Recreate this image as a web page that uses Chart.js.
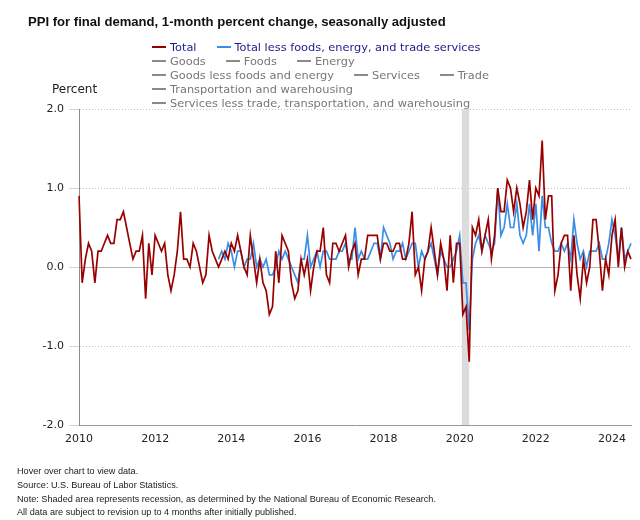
<!DOCTYPE html>
<html>
<head>
<meta charset="utf-8">
<title>PPI for final demand</title>
<script src="https://cdn.jsdelivr.net/npm/chart.js@4.4.1/dist/chart.umd.min.js"></script>
<style>
  body { margin: 0; background: #fff; }
  #wrap { position: relative; width: 640px; height: 520px; overflow: hidden; font-family: "DejaVu Sans", sans-serif; }
  #ppiChart { position: absolute; left: 0; top: 0; }
  .title { position: absolute; left: 28px; top: 14px; font: bold 13.1px "Liberation Sans", Arial, sans-serif; color: #111; white-space: nowrap; }
  .legend { position: absolute; left: 152px; top: 40px; font-size: 11.35px; line-height: 14px; }
  .legend .row { display: flex; white-space: nowrap; }
  .legend .item { display: flex; align-items: center; margin-right: 20px; color: #777; }
  .legend .item.on { color: #1c1c8c; }
  .legend .swatch { width: 14px; height: 0; border-top: 2px solid #8a8a8a; margin-right: 4px; }
  .ylabel { position: absolute; left: 52px; top: 82px; font-size: 12px; color: #222; }
  .notes { position: absolute; left: 17px; top: 465px; font: 9.15px/13.8px "Liberation Sans", Arial, sans-serif; color: #222; white-space: nowrap; }
</style>
</head>
<body>
<div id="wrap">
  <canvas id="ppiChart" width="640" height="520"></canvas>
  <div class="title">PPI for final demand, 1-month percent change, seasonally adjusted</div>
  <div class="legend" id="legend"></div>
  <div class="ylabel">Percent</div>
  <div class="notes">
    Hover over chart to view data.<br>
    Source: U.S. Bureau of Labor Statistics.<br>
    Note: Shaded area represents recession, as determined by the National Bureau of Economic Research.<br>
    All data are subject to revision up to 4 months after initially published.
  </div>
</div>
<script>
// months Jan 2010 .. Jul 2024
const months = [];
for (let y = 2010; y <= 2024; y++) {
  for (let m = 1; m <= 12; m++) {
    if (y === 2024 && m > 7) break;
    months.push(y + "-" + String(m).padStart(2, "0"));
  }
}

const yearTicks = ["2010", "2012", "2014", "2016", "2018", "2020", "2022", "2024"];
const yTicks = [-2, -1, 0, 1, 2];

const recessionStart = "2020-02";
const recessionEnd = "2020-04";

// Total
const total = [
  0.9, -0.2, 0.1, 0.3, 0.2, -0.2, 0.2, 0.2, 0.3, 0.4, 0.3, 0.3,
  0.6, 0.6, 0.7, 0.5, 0.3, 0.1, 0.2, 0.2, 0.4, -0.4, 0.3, -0.1,
  0.4, 0.3, 0.2, 0.3, -0.1, -0.3, -0.1, 0.2, 0.7, 0.1, 0.1, 0.0,
  0.3, 0.2, 0.0, -0.2, -0.1, 0.4, 0.2, 0.1, 0.0, 0.1, 0.2, 0.1,
  0.3, 0.2, 0.4, 0.2, 0.0, -0.1, 0.4, 0.1, -0.2, 0.1, -0.2, -0.3,
  -0.6, -0.5, 0.2, -0.2, 0.4, 0.3, 0.2, -0.2, -0.4, -0.3, 0.1, -0.1,
  0.1, -0.3, 0.0, 0.2, 0.2, 0.5, -0.1, -0.2, 0.3, 0.3, 0.2, 0.3,
  0.4, 0.0, 0.2, 0.3, -0.1, 0.1, 0.1, 0.4, 0.4, 0.4, 0.4, 0.1,
  0.3, 0.3, 0.2, 0.2, 0.3, 0.3, 0.1, 0.1, 0.3, 0.7, -0.1, 0.0,
  -0.3, 0.1, 0.2, 0.5, 0.2, -0.1, 0.3, 0.1, -0.3, 0.4, -0.2, 0.3,
  0.3, -0.6, -0.5, -1.2, 0.5, 0.4, 0.6, 0.2, 0.4, 0.6, 0.1, 0.4,
  1.0, 0.7, 0.7, 1.1, 1.0, 0.7, 1.0, 0.8, 0.5, 0.7, 1.1, 0.6,
  1.0, 0.9, 1.6, 0.6, 0.9, 0.9, -0.3, -0.1, 0.3, 0.4, 0.4, -0.3,
  0.4, -0.1, -0.4, 0.1, -0.2, 0.0, 0.6, 0.6, 0.2, -0.3, 0.1, -0.1,
  0.4, 0.6, 0.0, 0.5, 0.0, 0.2, 0.1
];

// Total less foods, energy, and trade services (starts Sep 2013)
const lessFoodsEnergyTrade = [
  null, null, null, null, null, null, null, null, null, null, null, null,
  null, null, null, null, null, null, null, null, null, null, null, null,
  null, null, null, null, null, null, null, null, null, null, null, null,
  null, null, null, null, null, null, null, null, 0.1, 0.2, 0.1, 0.3,
  0.2, 0.0, 0.2, 0.2, 0.0, 0.1, 0.1, 0.3, 0.0, 0.1, 0.0, 0.1,
  -0.1, -0.1, 0.0, 0.2, 0.1, 0.2, 0.1, 0.0, -0.1, -0.2, 0.1, 0.1,
  0.4, 0.0, 0.1, 0.2, 0.0, 0.2, 0.2, 0.1, 0.1, 0.1, 0.2, 0.2,
  0.3, 0.1, 0.1, 0.5, 0.1, 0.2, 0.1, 0.1, 0.2, 0.3, 0.3, 0.1,
  0.5, 0.4, 0.3, 0.1, 0.2, 0.2, 0.3, 0.1, 0.2, 0.3, 0.3, 0.0,
  0.2, 0.1, 0.2, 0.3, 0.1, -0.1, 0.2, 0.1, 0.0, 0.0, 0.1, 0.2,
  0.4, -0.2, -0.2, -0.8, 0.1, 0.3, 0.4, 0.2, 0.4, 0.3, 0.2, 0.3,
  1.0, 0.4, 0.5, 0.8, 0.5, 0.5, 0.8, 0.4, 0.3, 0.4, 0.8, 0.4,
  0.8, 0.2, 0.9, 0.5, 0.5, 0.3, 0.2, 0.2, 0.3, 0.2, 0.3, 0.1,
  0.6, 0.3, 0.1, 0.2, 0.0, 0.2, 0.2, 0.2, 0.3, 0.1, 0.1, 0.3,
  0.6, 0.4, 0.1, 0.5, 0.1, 0.2, 0.3
];

// legend rows (only the first two series are switched on)
const legendRows = [
  [["Total", "#990000", true], ["Total less foods, energy, and trade services", "#3a8ee6", true]],
  [["Goods"], ["Foods"], ["Energy"]],
  [["Goods less foods and energy"], ["Services"], ["Trade"]],
  [["Transportation and warehousing"]],
  [["Services less trade, transportation, and warehousing"]]
];

const legendBox = document.getElementById("legend");
legendBox.innerHTML = legendRows.map(row =>
  '<div class="row">' + row.map(([name, color, on]) =>
    `<span class="item${on ? " on" : ""}"><span class="swatch"${color ? ` style="border-color:${color}"` : ""}></span>${name}</span>`
  ).join("") + "</div>"
).join("");

// grey recession band
const recessionBand = {
  id: "recessionBand",
  beforeDatasetsDraw(chart) {
    const { ctx, chartArea, scales } = chart;
    const x1 = scales.x.getPixelForValue(months.indexOf(recessionStart));
    const x2 = scales.x.getPixelForValue(months.indexOf(recessionEnd));
    ctx.save();
    ctx.fillStyle = "#dcdcdc";
    ctx.fillRect(x1 - 1, chartArea.top, x2 - x1 + 1, chartArea.bottom - chartArea.top);
    ctx.restore();
  }
};

const ctx = document.getElementById("ppiChart").getContext("2d");

new Chart(ctx, {
  type: "line",
  data: {
    labels: months,
    datasets: [
      {
        label: "Total",
        data: total,
        borderColor: "#990000",
        borderWidth: 1.7,
        pointRadius: 0,
        tension: 0
      },
      {
        label: "Total less foods, energy, and trade services",
        data: lessFoodsEnergyTrade,
        borderColor: "#3a8ee6",
        borderWidth: 1.7,
        pointRadius: 0,
        tension: 0
      }
    ]
  },
  options: {
    responsive: false,
    animation: false,
    layout: { padding: { top: 109, right: 9, left: 0, bottom: 0 } },
    plugins: {
      legend: { display: false },
      tooltip: { enabled: false }
    },
    scales: {
      x: {
        type: "category",
        afterFit(scale) { scale.height = 95; },
        grid: { display: false, drawTicks: false },
        border: { display: true, color: "#9a9a9a", width: 1 },
        ticks: {
          autoSkip: false,
          maxRotation: 0,
          minRotation: 0,
          padding: 8,
          color: "#222",
          font: { family: "DejaVu Sans", size: 11 },
          callback(value, index) {
            const [yr, mo] = months[index].split("-");
            return mo === "01" && yearTicks.includes(yr) ? yr : "";
          }
        }
      },
      y: {
        min: yTicks[0],
        max: yTicks[yTicks.length - 1],
        afterFit(scale) { scale.width = 79; },
        afterBuildTicks(scale) { scale.ticks = yTicks.map(v => ({ value: v })); },
        grid: {
          color: c => (c.tick && c.tick.value === 0 ? "#b4b4b4" : "#c2c2c2"),
          lineWidth: 1,
          tickLength: 10,
          tickColor: "#c9d5ea",
          tickBorderDash: []
        },
        border: {
          display: true,
          color: "#8c8c8c",
          width: 1,
          dash: c => (c.tick && c.tick.value === 0 ? [] : [1, 2])
        },
        ticks: {
          padding: 5,
          color: "#222",
          font: { family: "DejaVu Sans", size: 11 },
          callback: v => Number(v).toFixed(1)
        }
      }
    }
  },
  plugins: [recessionBand]
});
</script>
</body>
</html>
